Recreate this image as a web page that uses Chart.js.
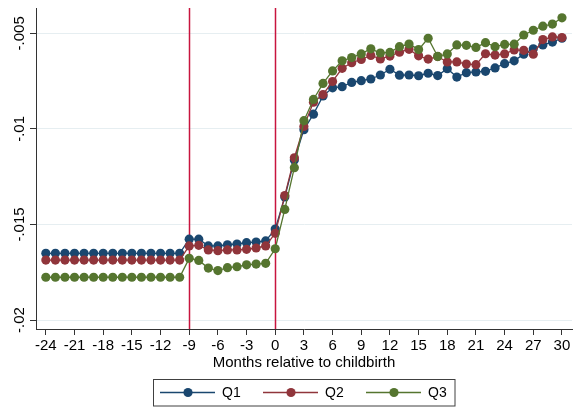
<!DOCTYPE html>
<html>
<head>
<meta charset="utf-8">
<script src="https://cdn.jsdelivr.net/npm/chart.js@4/dist/chart.umd.min.js"></script>
<style>
  html, body { margin: 0; padding: 0; background: #ffffff; }
  #wrap { width: 579px; height: 409px; position: relative; }
</style>
</head>
<body>
<div id="wrap"><canvas id="c" width="579" height="409"></canvas></div>
<script>
// Months relative to childbirth
const months = [-24, -23, -22, -21, -20, -19, -18, -17, -16, -15, -14, -13, -12, -11, -10,
  -9, -8, -7, -6, -5, -4, -3, -2, -1, 0,
  1, 2, 3, 4, 5, 6, 7, 8, 9, 10, 11, 12, 13, 14, 15, 16, 17, 18, 19, 20,
  21, 22, 23, 24, 25, 26, 27, 28, 29, 30];

const q1 = [-0.01651, -0.01651, -0.01651, -0.01651, -0.01651, -0.01651, -0.01651, -0.01651, -0.01651, -0.01651, -0.01651, -0.01651, -0.01651, -0.01651, -0.01651,
  -0.01577, -0.01577, -0.01612, -0.01612, -0.01606, -0.01602, -0.01595, -0.01592, -0.01586, -0.01524,
  -0.01356, -0.01163, -0.01004, -0.00923, -0.00828, -0.00785, -0.00779, -0.00757, -0.00748, -0.00739,
  -0.00718, -0.00688, -0.00719, -0.00718, -0.00722, -0.00709, -0.00721, -0.00685, -0.00729, -0.00706,
  -0.00702, -0.00699, -0.00681, -0.00659, -0.00644, -0.00609, -0.00581, -0.00561, -0.00546, -0.00526];

const q2 = [-0.01686, -0.01686, -0.01686, -0.01686, -0.01686, -0.01686, -0.01686, -0.01686, -0.01686, -0.01686, -0.01686, -0.01686, -0.01686, -0.01686, -0.01686,
  -0.01612, -0.01609, -0.01633, -0.01637, -0.01633, -0.01633, -0.01630, -0.01623, -0.01612, -0.01546,
  -0.01349, -0.01151, -0.00987, -0.00860, -0.00820, -0.00752, -0.00683, -0.00654, -0.00637, -0.00616,
  -0.00634, -0.00619, -0.00599, -0.00584, -0.00618, -0.00635, -0.00622, -0.00650, -0.00650, -0.00661,
  -0.00664, -0.00607, -0.00614, -0.00608, -0.00587, -0.00589, -0.00609, -0.00533, -0.00519, -0.00522];

const q3 = [-0.01776, -0.01776, -0.01776, -0.01776, -0.01776, -0.01776, -0.01776, -0.01776, -0.01776, -0.01776, -0.01776, -0.01776, -0.01776, -0.01776, -0.01776,
  -0.01677, -0.01688, -0.01728, -0.01741, -0.01726, -0.01721, -0.01711, -0.01707, -0.01703, -0.01627,
  -0.01421, -0.01203, -0.00957, -0.00846, -0.00762, -0.00697, -0.00644, -0.00627, -0.00608, -0.00581,
  -0.00603, -0.00600, -0.00570, -0.00556, -0.00585, -0.00526, -0.00621, -0.00608, -0.00561, -0.00563,
  -0.00574, -0.00549, -0.00570, -0.00558, -0.00557, -0.00509, -0.00484, -0.00463, -0.00452, -0.00419];

const seriesNames = ['Q1', 'Q2', 'Q3'];
const xTicks = [-24, -21, -18, -15, -12, -9, -6, -3, 0, 3, 6, 9, 12, 15, 18, 21, 24, 27, 30];
const yTicks = [-0.02, -0.015, -0.01, -0.005];
const yTickLabels = ['-.02', '-.015', '-.01', '-.005'];
const eventMonths = [-9, 0];

const colors = ['#1a476f', '#90353b', '#55752f'];
const FONT = '"Liberation Sans", Arial, Helvetica, sans-serif';

function toPoints(vals) {
  return months.map((m, i) => ({ x: m, y: vals[i] }));
}

const seriesValues = [q1, q2, q3];
const datasets = seriesValues.map((vals, i) => ({
  label: seriesNames[i],
  data: toPoints(vals),
  borderColor: colors[i],
  backgroundColor: colors[i],
  pointBackgroundColor: colors[i],
  pointBorderWidth: 0,
  pointRadius: 4.6,
  pointHoverRadius: 4.6,
  borderWidth: 1.3,
  tension: 0,
  order: 2 - i
}));

// Vertical reference lines at the event months
const eventLines = {
  id: 'eventLines',
  beforeDatasetsDraw(chart) {
    const { ctx, chartArea, scales } = chart;
    ctx.save();
    ctx.strokeStyle = '#c8143e';
    ctx.lineWidth = 1.5;
    eventMonths.forEach(m => {
      const x = Math.round(scales.x.getPixelForValue(m)) + 0.5;
      ctx.beginPath();
      ctx.moveTo(x, chartArea.top);
      ctx.lineTo(x, chartArea.bottom);
      ctx.stroke();
    });
    ctx.restore();
  }
};

// Rotated y tick labels
const yLabels = {
  id: 'yLabels',
  afterDraw(chart) {
    const { ctx, scales } = chart;
    ctx.save();
    ctx.fillStyle = '#000000';
    ctx.font = '15px ' + FONT;
    ctx.textAlign = 'center';
    ctx.textBaseline = 'middle';
    yTicks.forEach((v, i) => {
      const y = scales.y.getPixelForValue(v);
      ctx.save();
      ctx.translate(20, y);
      ctx.rotate(-Math.PI / 2);
      ctx.fillText(yTickLabels[i], 0, 0);
      ctx.restore();
    });
    ctx.restore();
  }
};

// Boxed legend under the axis title
const boxLegend = {
  id: 'boxLegend',
  afterDraw(chart) {
    const { ctx } = chart;
    const box = { x: 153.5, y: 379.5, w: 301.5, h: 26.5 };
    ctx.save();
    ctx.strokeStyle = '#404040';
    ctx.lineWidth = 1;
    ctx.strokeRect(box.x, box.y, box.w, box.h);
    const cy = 392.5;
    const starts = [160, 263, 366];
    ctx.font = '14px ' + FONT;
    ctx.textBaseline = 'middle';
    ctx.textAlign = 'left';
    chart.data.datasets.forEach((ds, i) => {
      const x0 = starts[i];
      ctx.strokeStyle = ds.borderColor;
      ctx.lineWidth = 1.4;
      ctx.beginPath();
      ctx.moveTo(x0, cy);
      ctx.lineTo(x0 + 55, cy);
      ctx.stroke();
      ctx.fillStyle = ds.borderColor;
      ctx.beginPath();
      ctx.arc(x0 + 28, cy, 4.6, 0, Math.PI * 2);
      ctx.fill();
      ctx.fillStyle = '#000000';
      ctx.fillText(ds.label, x0 + 62, cy + 0.5);
    });
    ctx.restore();
  }
};

new Chart(document.getElementById('c'), {
  type: 'line',
  data: { datasets },
  options: {
    responsive: false,
    animation: false,
    devicePixelRatio: 1,
    layout: { padding: { top: 8, right: 7, bottom: 30, left: 0 } },
    plugins: {
      legend: { display: false },
      tooltip: { enabled: false }
    },
    scales: {
      x: {
        type: 'linear',
        min: -25.03,
        max: 31.05,
        afterBuildTicks(scale) { scale.ticks = xTicks.map(v => ({ value: v })); },
        afterFit(scale) { scale.height = 50; },
        ticks: {
          autoSkip: false,
          maxRotation: 0,
          minRotation: 0,
          padding: 2,
          color: '#000000',
          font: { family: FONT, size: 15 },
          callback: v => String(v)
        },
        grid: {
          drawOnChartArea: false,
          drawTicks: true,
          tickLength: 6,
          tickColor: '#333333',
          tickWidth: 1
        },
        border: { display: true, color: '#333333', width: 1 },
        title: {
          display: true,
          text: 'Months relative to childbirth',
          color: '#000000',
          font: { family: FONT, size: 15 },
          padding: { top: 0, bottom: 7 }
        }
      },
      y: {
        type: 'linear',
        min: -0.020466,
        max: -0.003677,
        afterBuildTicks(scale) { scale.ticks = yTicks.map(v => ({ value: v })); },
        afterFit(scale) { scale.width = 36; },
        ticks: { display: false },
        grid: {
          color: '#e6eef1',
          lineWidth: 1,
          drawTicks: true,
          tickLength: 6,
          tickColor: '#333333'
        },
        border: { display: true, color: '#333333', width: 1 }
      }
    }
  },
  plugins: [eventLines, yLabels, boxLegend]
});
</script>
</body>
</html>
